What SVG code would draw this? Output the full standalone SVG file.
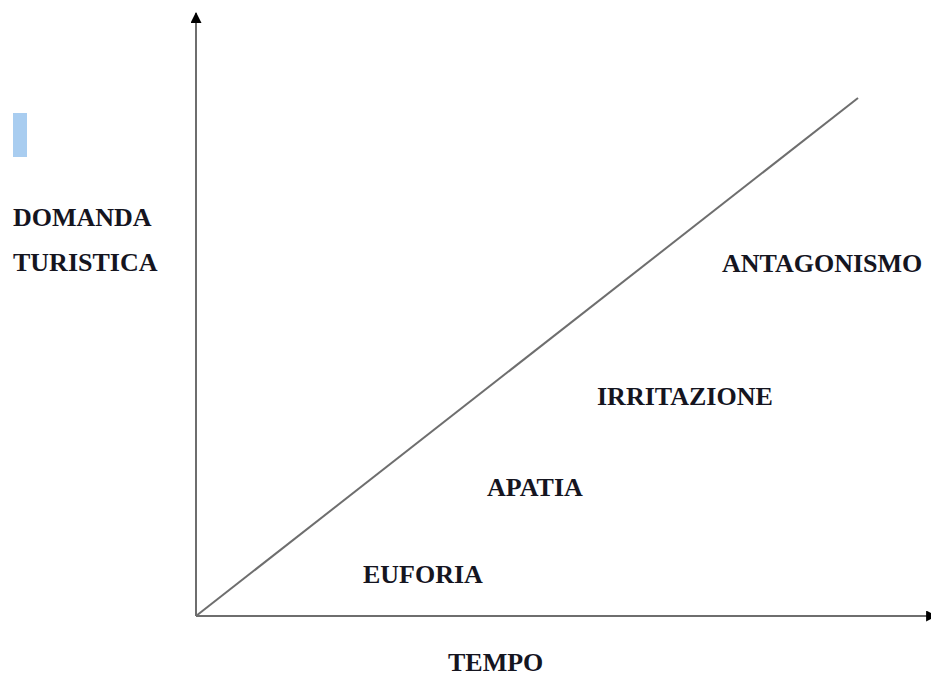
<svg xmlns="http://www.w3.org/2000/svg" width="931" height="676" viewBox="0 0 931 676">
<style>
.lbl{font-family:'Liberation Serif','Times New Roman',Tinos,'DejaVu Serif',serif;font-weight:700;font-size:26px;fill:#15151f}
.ax{stroke:#6e6e6e;stroke-width:2;fill:none}
</style>
<defs>
<marker id="arr" viewBox="0 0 10 10" refX="9" refY="5" markerWidth="12" markerHeight="11" markerUnits="userSpaceOnUse" orient="auto">
<path d="M0,0 L10,5 L0,10 Z" fill="#000"/>
</marker>
</defs>
<rect width="931" height="676" fill="#fff"/>
<rect x="13" y="113" width="14" height="44" fill="#a9cdf0"/>
<g id="connectors">
<line class="ax" x1="196" y1="616" x2="196" y2="13" marker-end="url(#arr)"/>
<line class="ax" x1="196" y1="616" x2="936" y2="616" marker-end="url(#arr)"/>
<line class="ax" x1="196" y1="616" x2="858" y2="98"/>
</g>
<g id="axis-y-label">
<text class="lbl" x="13" y="226">DOMANDA</text>
<text class="lbl" x="13" y="271">TURISTICA</text>
</g>
<g id="axis-x-label"><text class="lbl" x="448" y="671">TEMPO</text></g>
<g id="antagonismo"><text class="lbl" x="722" y="272">ANTAGONISMO</text></g>
<g id="irritazione"><text class="lbl" x="597" y="405">IRRITAZIONE</text></g>
<g id="apatia"><text class="lbl" x="487" y="496">APATIA</text></g>
<g id="euforia"><text class="lbl" x="363" y="583">EUFORIA</text></g>
</svg>
